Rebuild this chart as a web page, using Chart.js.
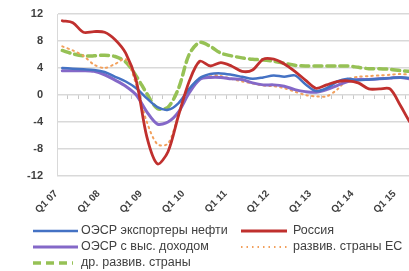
<!DOCTYPE html>
<html>
<head>
<meta charset="utf-8">
<script src="https://cdn.jsdelivr.net/npm/chart.js@4.4.1/dist/chart.umd.min.js"></script>
<style>
  html, body { margin: 0; padding: 0; background: #fff; overflow: hidden; }
  #wrap { position: relative; width: 430px; height: 271px; }
  #box { position: absolute; left: 0; top: 0; width: 430px; height: 271px; }
  .leg { position: absolute; font: 12.5px "Liberation Sans", Arial, sans-serif; color: #404040; white-space: nowrap; }
  .leg svg { position: absolute; left: 0; top: 0; }
  .leg span { position: absolute; top: -8px; }
</style>
</head>
<body>
<div id="wrap">
  <div id="box"><canvas id="chart"></canvas></div>
  <div id="legend"></div>
</div>
<script>
const quarters = [
  'Q1 07','Q2 07','Q3 07','Q4 07','Q1 08','Q2 08','Q3 08','Q4 08',
  'Q1 09','Q2 09','Q3 09','Q4 09','Q1 10','Q2 10','Q3 10','Q4 10',
  'Q1 11','Q2 11','Q3 11','Q4 11','Q1 12','Q2 12','Q3 12','Q4 12',
  'Q1 13','Q2 13','Q3 13','Q4 13','Q1 14','Q2 14','Q3 14','Q4 14',
  'Q1 15','Q2 15','Q3 15'
];

const oecdOil   = [4.0, 3.9, 3.8, 3.7, 3.4, 2.7, 2.0, 1.0, -0.5, -1.8, -2.2, -1.2, 0.9, 2.5, 3.1, 3.2, 3.0, 2.7, 2.4, 2.6, 2.9, 2.7, 2.9, 1.6, 0.6, 1.0, 2.0, 2.4, 2.2, 2.3, 2.4, 2.5, 2.6, 2.5, 2.5];
const russia    = [11.0, 10.7, 9.3, 9.4, 9.3, 8.2, 6.2, 2.1, -6.2, -10.2, -8.4, -3.0, 2.0, 5.0, 4.3, 4.8, 4.3, 3.5, 3.7, 5.3, 5.3, 4.6, 3.5, 2.2, 1.0, 1.5, 2.0, 2.1, 1.8, 0.9, 0.9, 0.9, -1.6, -4.3, -6.0];
const oecdHigh  = [3.6, 3.6, 3.6, 3.5, 3.0, 2.2, 1.3, 0.0, -2.5, -4.3, -4.0, -2.5, 0.3, 2.3, 2.6, 2.6, 2.4, 2.3, 1.8, 1.5, 1.5, 1.3, 0.8, 0.5, 0.4, 0.8, 1.4, 2.0, 2.3, 2.3, 2.4, 2.5, 2.6, 2.4, 2.4];
const euDev     = [7.2, 6.6, 5.8, 4.5, 4.0, 4.6, 5.3, 1.5, -4.0, -7.3, -7.2, -3.0, 0.8, 2.5, 3.0, 2.8, 2.4, 2.0, 1.7, 1.4, 1.3, 1.0, 0.5, 0.0, -0.2, -0.2, 0.8, 2.3, 2.7, 2.8, 2.9, 3.0, 3.1, 3.0, 3.0];
const otherDev  = [6.6, 6.1, 5.8, 5.8, 5.9, 5.7, 4.9, 2.8, 0.2, -2.0, -1.8, 1.0, 6.0, 7.8, 7.2, 6.2, 5.8, 5.5, 5.3, 5.2, 5.0, 4.7, 4.4, 4.3, 4.3, 4.3, 4.3, 4.3, 4.1, 3.9, 3.9, 3.8, 3.6, 3.5, 3.5];

const yTicks = [-12, -8, -4, 0, 4, 8, 12];

const series = [
  { label: 'ОЭСР экспортеры нефти', data: oecdOil,  color: '#4472C4', width: 2.5, dash: [],     order: 2 },
  { label: 'Россия',                data: russia,   color: '#C0302E', width: 2.8, dash: [],     order: 1 },
  { label: 'ОЭСР с выс. доходом',   data: oecdHigh, color: '#8468C8', width: 3,   dash: [],     order: 3 },
  { label: 'развив. страны ЕС',     data: euDev,    color: '#F2A05C', width: 2,   dash: [1.5, 4], order: 4 },
  { label: 'др. развив. страны',    data: otherDev, color: '#96C155', width: 3.5, dash: [8, 5], order: 5 }
];

const ctx = document.getElementById('chart').getContext('2d');
const chart = new Chart(ctx, {
  type: 'line',
  data: {
    labels: quarters,
    datasets: series.map(s => ({
      label: s.label,
      data: s.data,
      borderColor: s.color,
      borderWidth: s.width,
      borderDash: s.dash,
      borderCapStyle: 'round',
      pointRadius: 0,
      tension: 0.3,
      fill: false,
      order: s.order
    }))
  },
  options: {
    responsive: true,
    maintainAspectRatio: false,
    animation: false,
    layout: { padding: { top: 14, right: 3, left: 0, bottom: 56 } },
    plugins: { legend: { display: false }, tooltip: { enabled: false } },
    scales: {
      x: {
        type: 'category',
        offset: true,
        grid: { display: false, drawTicks: false },
        border: { display: false },
        afterFit: s => { s.height = 39; s.paddingRight = 0; },
        ticks: {
          autoSkip: false,
          minRotation: 45,
          maxRotation: 45,
          padding: 12,
          labelOffset: -6,
          color: '#404040',
          font: { family: 'Liberation Sans, Arial, sans-serif', size: 10, weight: 'bold' },
          callback: function (v, i) {
            const l = quarters[i];
            return l.startsWith('Q1') ? l : '';
          }
        }
      },
      x0: {
        type: 'category',
        labels: quarters,
        offset: true,
        position: { y: 0 },
        ticks: { display: false },
        border: { display: false },
        grid: { offset: true, drawOnChartArea: false, drawTicks: true, tickLength: 4, color: '#c8c8c8' }
      },
      y: {
        min: -12,
        max: 12,
        afterFit: s => { s.width = 57; s.paddingTop = 0; s.paddingBottom = 0; },
        afterBuildTicks: s => { s.ticks = yTicks.map(v => ({ value: v })); },
        grid: { color: '#d9d9d9', lineWidth: 1.5, drawTicks: false },
        border: { display: true, color: '#d9d9d9' },
        ticks: {
          padding: 14,
          color: '#404040',
          font: { family: 'Liberation Sans, Arial, sans-serif', size: 11, weight: 'bold' }
        }
      }
    }
  }
});

// legend laid out in two columns like the original
const legendPos = [
  { x: 32,  y: 231, w: 46, tx: 81 },
  { x: 240, y: 231, w: 47, tx: 293 },
  { x: 32,  y: 247, w: 46, tx: 81 },
  { x: 240, y: 247, w: 47, tx: 293 },
  { x: 32,  y: 263, w: 41, tx: 81 }
];
const legend = document.getElementById('legend');
series.forEach((s, i) => {
  const p = legendPos[i];
  const d = document.createElement('div');
  d.className = 'leg';
  d.style.left = p.x + 'px';
  d.style.top = p.y + 'px';
  const dash = s.dash.length ? `stroke-dasharray="${s.dash.join(' ')}"` : '';
  d.innerHTML = `<svg width="${p.w + 2}" height="8" style="top:-4px"><line x1="1" y1="4" x2="${p.w}" y2="4" stroke="${s.color}" stroke-width="${s.width}" ${dash}/></svg>` +
    `<span style="left:${p.tx - p.x}px">${s.label}</span>`;
  legend.appendChild(d);
});
</script>
</body>
</html>
